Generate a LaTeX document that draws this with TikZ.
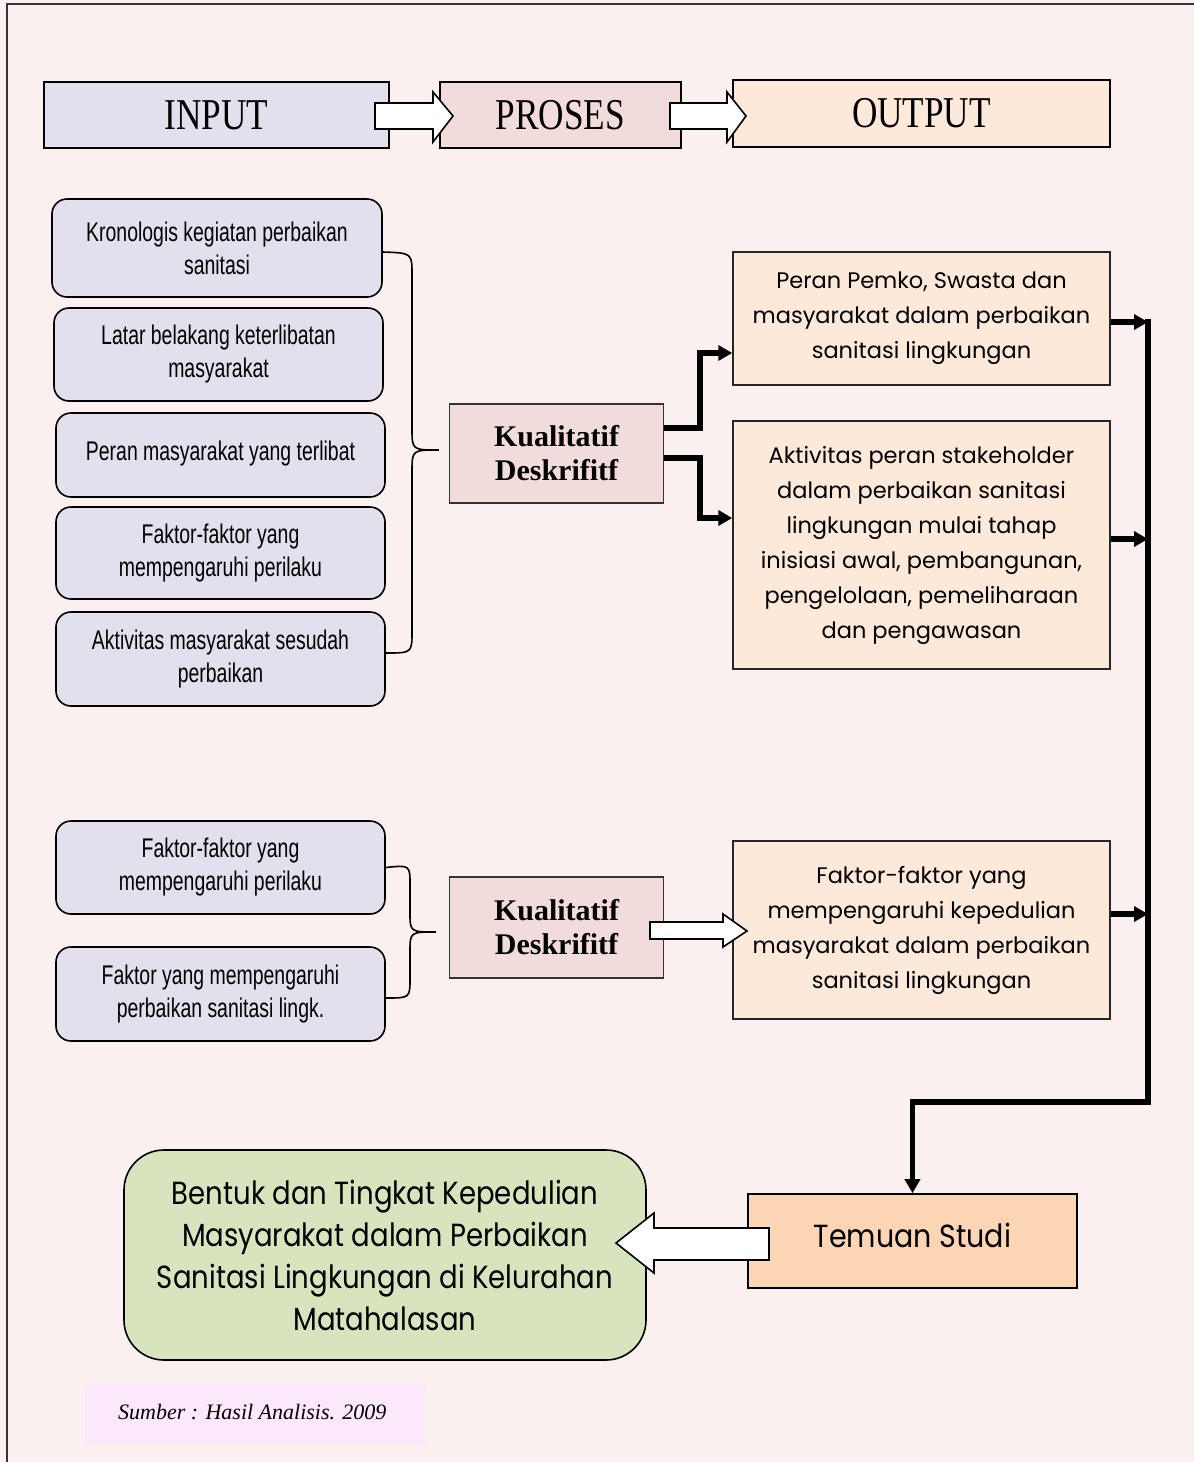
\documentclass[tikz,border=0pt]{standalone}
\usepackage{fontspec}
\setmainfont{Liberation Serif}
\newfontfamily\agency[FakeStretch=0.72]{Liberation Sans}
\newfontfamily\comic{Poppins}
\newfontfamily\comicn[FakeStretch=0.89]{Poppins}
\newfontfamily\comicg[FakeStretch=0.86]{Poppins}
\newfontfamily\hdr[FakeStretch=0.8]{Liberation Serif}
\usetikzlibrary{arrows.meta,calc}
\definecolor{bgc}{HTML}{FAF0EF}
\definecolor{lav}{HTML}{E4DFEC}
\definecolor{pinkb}{HTML}{F2DCDB}
\definecolor{peach}{HTML}{FDE9D9}
\definecolor{peachd}{HTML}{FCD5B5}
\definecolor{greenb}{HTML}{D7E4BD}
\definecolor{sumb}{HTML}{FCE8FB}
\begin{document}
\begin{tikzpicture}[x=1pt,y=-1pt,
  hbox/.style={draw=black,line width=1.6pt,inner sep=0pt,font=\hdr\fontsize{44}{48}\selectfont},
  lbox/.style={draw=black,line width=1.6pt,fill=lav,rounded corners=15pt,inner sep=0pt,minimum width=329pt,align=center,font=\agency\fontsize{27}{33}\selectfont},
  kbox/.style={draw=black!80,line width=1.2pt,fill=pinkb,inner sep=0pt,align=center,minimum width=214pt,font=\bfseries\fontsize{30}{34}\selectfont},
  obox/.style={draw=black!85,line width=1.4pt,fill=peach,inner sep=0pt,minimum width=377pt,align=center,font=\comic\fontsize{22.5}{35}\selectfont},
  brace/.style={draw=black,line width=1.6pt},
  tharrow/.style={line width=5.5pt,-{Triangle[length=14pt,width=15pt]}},
  blockarrow/.style={draw=black,line width=1.6pt,fill=white,line join=miter}
]
\useasboundingbox (0,0) rectangle (1194,1462);
\fill[bgc] (0,0) rectangle (1194,1462);
\draw[black!80,line width=2pt] (7,1462) -- (7,4) -- (1194,4);

% header
\node[hbox,fill=lav,minimum width=345pt,minimum height=66pt] (in) at (216.5,115) {INPUT};
\node[hbox,fill=pinkb,minimum width=241pt,minimum height=66pt] (pr) at (560.5,115) {PROSES};
\node[hbox,fill=peach,minimum width=377pt,minimum height=67pt] (out) at (921.5,113.5) {OUTPUT};
\draw[blockarrow] (375,103) -- (433,103) -- (433,92) -- (453,116) -- (433,142) -- (433,129) -- (375,129) -- cycle;
\draw[blockarrow] (670,103) -- (727,103) -- (727,92) -- (746,116) -- (727,142) -- (727,129) -- (670,129) -- cycle;

% left boxes, group 1
\node[lbox,minimum width=330pt,minimum height=98pt] (b1) at (217,248) {Kronologis kegiatan perbaikan\\sanitasi};
\node[lbox,minimum height=93pt] (b2) at (218.5,354.5) {Latar belakang keterlibatan\\masyarakat};
\node[lbox,minimum height=84pt] (b3) at (220.5,455) {\raisebox{8pt}{Peran masyarakat yang terlibat}};
\node[lbox,minimum height=92pt] (b4) at (220.5,553) {Faktor-faktor yang\\mempengaruhi perilaku};
\node[lbox,minimum height=94pt] (b5) at (220.5,659) {Aktivitas masyarakat sesudah\\perbaikan};

% left boxes, group 2
\node[lbox,minimum height=93pt] (b6) at (220.5,867.5) {Faktor-faktor yang\\mempengaruhi perilaku};
\node[lbox,minimum height=94pt] (b7) at (220.5,994) {Faktor yang mempengaruhi\\perbaikan sanitasi lingk.};

% process boxes
\node[kbox,minimum height=99pt] (k1) at (556.5,453.5) {Kualitatif\\Deskrifitf};
\node[kbox,minimum height=101pt] (k2) at (556.5,927.5) {Kualitatif\\Deskrifitf};

% braces
\coordinate (t1) at ($(k1.west)+(-10,-3.5)$);
\coordinate (t2) at ($(k2.west)+(-13,4.5)$);
\draw[brace] ([yshift=-4pt]b1.east) .. controls (412,253) .. (412,275) -- (412,428) .. controls (412,450) .. (t1)
   .. controls (412,450) .. (412,472) -- (412,631) .. controls (412,653) .. ([yshift=6pt]b5.east);
\draw[brace] (b6.east) .. controls (410,865) .. (410,885) -- (410,912) .. controls (410,932) .. (t2)
   .. controls (410,932) .. (410,952) -- (410,978) .. controls (410,998) .. ([yshift=-4pt]b7.east);

% output boxes
\node[obox,minimum height=133pt] (o1) at (921.5,318.5) {Peran Pemko, Swasta dan\\masyarakat dalam perbaikan\\sanitasi lingkungan};
\node[obox,minimum height=248pt] (o2) at (921.5,545) {\raisebox{7pt}{\parbox{377pt}{\centering Aktivitas peran stakeholder\\dalam perbaikan sanitasi\\lingkungan mulai tahap\\inisiasi awal, pembangunan,\\pengelolaan, pemeliharaan\\dan pengawasan}}};
\node[obox,minimum height=178pt] (o3) at (921.5,930) {\raisebox{7pt}{\parbox{377pt}{\centering Faktor-faktor yang\\mempengaruhi kepedulian\\masyarakat dalam perbaikan\\sanitasi lingkungan}}};

% process -> output arrows
\draw[tharrow] ([yshift=25.5pt]k1.east) -- ++(36,0) |- ([yshift=-34.5pt]o1.west);
\draw[tharrow] ([yshift=-4.5pt]k1.east) -- ++(36,0) |- ([yshift=27pt]o2.west);
\draw[blockarrow] (650,922) -- (723,922) -- (723,914) -- (747,931) -- (723,947) -- (723,939) -- (650,939) -- cycle;

% bus
\coordinate (e1) at (1148,322);
\coordinate (e2) at (1148,539);
\coordinate (e3) at (1148,914);
\coordinate (bt) at (1148,319);
\coordinate (bb) at (1148,1102);
\draw[tharrow] ([yshift=-3.5pt]o1.east) -- (e1);
\draw[tharrow] ([yshift=6pt]o2.east) -- (e2);
\draw[tharrow] ([yshift=16pt]o3.east) -- (e3);

% findings
\node[draw=black,line width=1.6pt,fill=peachd,minimum width=329pt,minimum height=94pt,inner sep=0pt,font=\comicn\fontsize{32}{36}\selectfont] (ts) at (912.5,1241) {\raisebox{12pt}{Temuan Studi}};
\draw[line width=5.5pt,-{Triangle[length=14pt,width=15pt]}] (bt) -- (bb) -| (ts.north);

\node[draw=black,line width=1.6pt,fill=greenb,rounded corners=40pt,minimum width=522pt,minimum height=210pt,inner sep=0pt,align=center,font=\comicg\fontsize{32}{42}\selectfont] (gr) at (385,1255) {Bentuk dan Tingkat Kepedulian\\Masyarakat dalam Perbaikan\\Sanitasi Lingkungan di Kelurahan\\Matahalasan};
\draw[blockarrow] (769,1228) -- (654,1228) -- (654,1213) -- (616,1243) -- (654,1273) -- (654,1260) -- (769,1260) -- cycle;

% source
\fill[sumb] (85,1385) rectangle (425,1445);
\node[anchor=west,inner sep=0pt,font=\itshape\fontsize{22}{24}\selectfont] (src) at (118,1412) {Sumber : Hasil Analisis. 2009};
\end{tikzpicture}
\end{document}
